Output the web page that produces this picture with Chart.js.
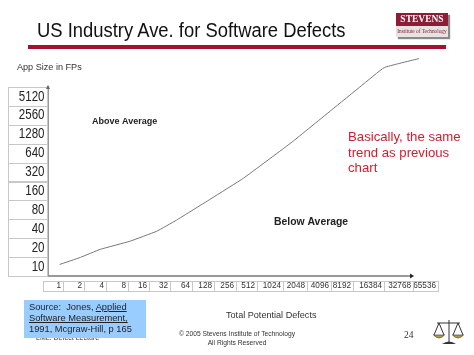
<!DOCTYPE html>
<html><head><meta charset="utf-8">
<script src="https://cdn.jsdelivr.net/npm/chart.js@4"></script>
<style>
html,body{margin:0;padding:0;background:#fff;width:474px;height:355px;overflow:hidden;font-family:"Liberation Sans",Arial,sans-serif}
#wrap{position:relative;width:474px;height:355px}
canvas{position:absolute;left:0;top:0}
.t{position:absolute;white-space:nowrap}
</style></head><body>
<div id="wrap">
<canvas id="c" width="474" height="355"></canvas>
<div class="t" style="left:37px;top:17px;font-size:20px;line-height:26px;color:#111;transform:scaleX(.92);transform-origin:left center">US Industry Ave. for Software Defects</div>
<div style="position:absolute;left:28px;top:45px;width:418px;height:4px;background:#a3112f"></div>
<div style="position:absolute;left:396px;top:13px;width:52px;height:24px;background:#e9e2e2;box-shadow:2px 2px 1px #8a8a8a;overflow:hidden">
  <div style="height:13px;background:#8d1c36;color:#fff;font:bold 9.5px/13px 'Liberation Serif',serif;text-align:center">STEVENS</div>
  <div style="color:#7d1c34;font:5.3px/10px 'Liberation Serif',serif;text-align:center;white-space:nowrap">Institute of Technology</div>
</div>
<div class="t" style="left:36px;top:333px;font-size:7px;line-height:9px;color:#333">LML: Defect Lecture</div>
<div style="position:absolute;left:24px;top:300px;width:122px;height:38px;background:#99ccff"></div>
<div class="t" style="left:29px;top:302px;font-size:9.3px;line-height:11px;color:#222">Source:&nbsp; Jones, <u>Applied</u><br><u>Software Measurement,</u><br>1991, Mcgraw-Hill, p 165</div>
<div class="t" style="left:137px;width:200px;top:330px;font-size:6.7px;line-height:8.5px;color:#333;text-align:center">© 2005 Stevens Institute of Technology<br>All Rights Reserved</div>
<div class="t" style="left:404px;top:330px;font:9.5px/11px 'Liberation Serif',serif;color:#333">24</div>
<svg style="position:absolute;left:433px;top:318px" width="32" height="28" viewBox="0 0 32 28">
  <g fill="none" stroke="#333" stroke-width="1">
    <path d="M4 5 L27 5 M16 2 L16 25"/>
    <path d="M6 5 L1 17 M6 5 L11 17 M25 5 L20 17 M25 5 L30 17"/>
  </g>
  <path d="M0.5 17 H11.5 Q6 23 0.5 17Z M19.5 17 H30.5 Q25 23 19.5 17Z" fill="#b59a3a" stroke="#333" stroke-width=".6"/>
  <path d="M9 26 Q16 21 23 26Z" fill="#333"/>
</svg>
</div>
<script>
const xLabels = [1,2,4,8,16,32,64,128,256,512,1024,2048,4096,8192,16384,32768,65536];
const yLabels = [5120,2560,1280,640,320,160,80,40,20,10];
const lineX = [1,1.89,3.47,8.6,19.5,35.7,106,280,1236,4160,10300,20700,59800];
const lineY = [10.8,14,18.8,25.3,36.5,54.8,123,257,967,3142,7600,14750,20500];
const xCellEdges = [43,63,84,106,128,149,170,192,214,236,257,283,307,331,353,384,413,438];
const notes = [
  {text:'App Size in FPs', x:17, y:67, font:'9.1px "Liberation Sans"', color:'#333'},
  {text:'Above Average', x:92, y:122, font:'bold 9px "Liberation Sans"', color:'#222'},
  {text:'Below Average', x:274, y:222, font:'bold 10.4px "Liberation Sans"', color:'#222'},
  {text:'Total Potential Defects', x:226, y:315, font:'9.1px "Liberation Sans"', color:'#333'},
  {text:'Basically, the same', x:348, y:137, font:'13.2px "Liberation Sans"', color:'#cc2030'},
  {text:'trend as previous', x:348, y:153, font:'13.2px "Liberation Sans"', color:'#cc2030'},
  {text:'chart', x:348, y:168, font:'13.2px "Liberation Sans"', color:'#cc2030'}
];
const cellColor = '#c8c8c8';
const slidePlugin = {
  id:'slide',
  beforeDatasetsDraw(chart){
    const c = chart.ctx, a = chart.chartArea, ys = chart.scales.y;
    c.save();
    c.strokeStyle = cellColor; c.lineWidth = 1;
    const step = (ys.getPixelForValue(10) - ys.getPixelForValue(5120)) / (yLabels.length - 1);
    yLabels.forEach(v=>{
      const p = ys.getPixelForValue(v);
      c.strokeRect(8.5, Math.round(p - step/2) + .5, a.left - 9, Math.round(step));
    });
    const top = 281, h = 10;
    c.strokeRect(xCellEdges[0]+.5, top+.5, xCellEdges[xCellEdges.length-1]-xCellEdges[0], h);
    xCellEdges.slice(1,-1).forEach(e=>{
      c.beginPath(); c.moveTo(e+.5, top); c.lineTo(e+.5, top+h); c.stroke();
    });
    c.fillStyle = '#222';
    c.beginPath(); c.moveTo(a.right+3, a.bottom); c.lineTo(a.right-1, a.bottom-2.5); c.lineTo(a.right-1, a.bottom+2.5); c.fill();
    c.fillStyle = '#666';
    c.beginPath(); c.moveTo(a.left, a.top-2); c.lineTo(a.left-2, a.top+2); c.lineTo(a.left+2, a.top+2); c.fill();
    c.textBaseline = 'middle'; c.textAlign = 'left';
    notes.forEach(n=>{ c.font = n.font; c.fillStyle = n.color; c.fillText(n.text, n.x, n.y); });
    c.restore();
  }
};
new Chart(document.getElementById('c'), {
  type:'scatter',
  data:{datasets:[{
    data:lineX.map((x,i)=>({x,y:lineY[i]})),
    showLine:true, borderColor:'#777', borderWidth:1, pointRadius:0, tension:0.1, clip:false, fill:false
  }]},
  plugins:[slidePlugin],
  options:{
    responsive:false, animation:false, devicePixelRatio:1,
    layout:{padding:{left:0,top:87,right:60,bottom:0}},
    plugins:{legend:{display:false},tooltip:{enabled:false},title:{display:false}},
    scales:{
      x:{
        type:'logarithmic', min:0.717, max:47000,
        grid:{display:false,drawTicks:false},
        border:{display:true,color:'#999',width:2},
        afterFit(s){ s.height = 79; },
        afterBuildTicks(s){
          s.ticks = xLabels.map(value=>({value}));
          s.getPixelForTick = i => xCellEdges[i+1] - 2;
        },
        ticks:{autoSkip:false,maxRotation:0,minRotation:0,align:'end',padding:5,
          color:'#333',font:{family:'"Liberation Sans"',size:8.2},callback:v=>String(v)}
      },
      y:{
        type:'logarithmic', min:7.07, max:7241,
        grid:{display:false,drawTicks:false},
        border:{display:true,color:'#999',width:2},
        afterFit(s){ s.width = 48; },
        afterBuildTicks(s){
          s.ticks = yLabels.map(value=>({value}));
          if(!s._narrowed){
            s._narrowed = true;
            const orig = s.drawLabels.bind(s);
            s.drawLabels = function(area){
              const c = s.ctx; c.save();
              c.translate(44.5,0); c.scale(.77,1); c.translate(-44.5,0);
              orig(area); c.restore();
            };
          }
        },
        ticks:{autoSkip:false,padding:3.5,color:'#222',
          font:{family:'"Liberation Sans"',size:15},callback:v=>String(v)}
      }
    }
  }
});
</script>
</body></html>
